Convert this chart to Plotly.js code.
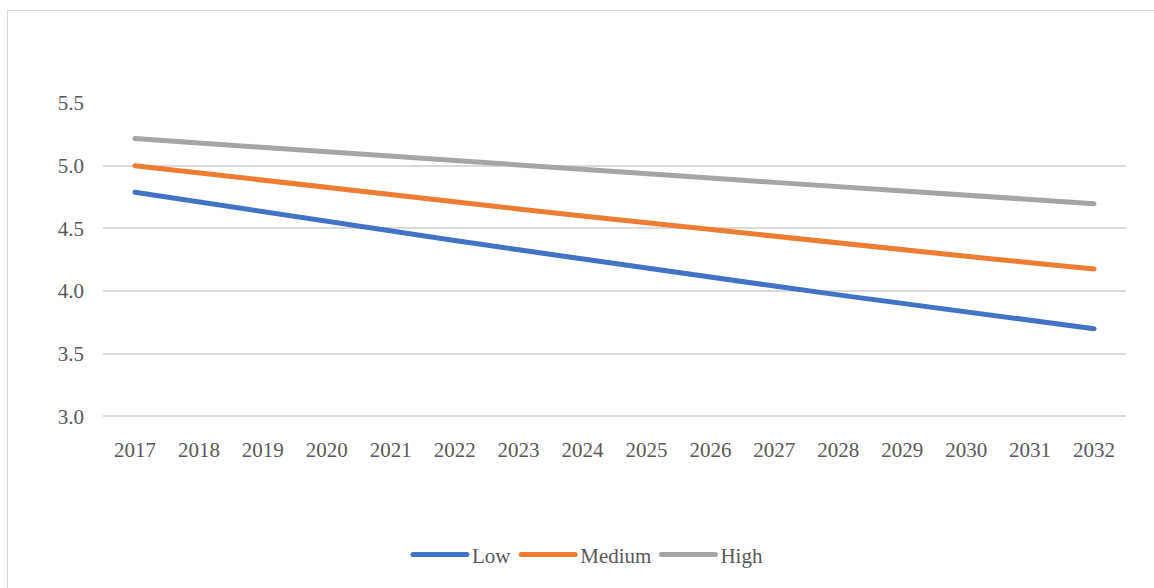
<!DOCTYPE html>
<html>
<head>
<meta charset="utf-8">
<script src="https://cdn.plot.ly/plotly-3.0.1.min.js"></script>
<style>
  html, body { margin: 0; padding: 0; background: #ffffff; overflow: hidden; }
  #frame { position: absolute; left: 7px; top: 10px; width: 1200px; height: 700px; border: 1px solid #d9d9d9; box-sizing: border-box; }
  #chart { position: absolute; left: 0; top: 0; width: 1154px; height: 588px; }
  #chart .js-line { stroke-linecap: round; }
  #chart .legendlines path { stroke-linecap: round; }
  #preload { position: absolute; left: 20px; top: 20px; }
</style>
</head>
<body>
<div id="frame"></div>
<svg id="preload" width="4" height="4"><text x="0" y="3" style="font-family: 'Liberation Serif'; font-size: 2px; fill: #ffffff;">.</text></svg>
<div id="chart"></div>
<script>
const years = ['2017','2018','2019','2020','2021','2022','2023','2024','2025','2026','2027','2028','2029','2030','2031','2032'];
const lowValues = [4.789, 4.710, 4.632, 4.555, 4.478, 4.403, 4.329, 4.255, 4.183, 4.111, 4.040, 3.970, 3.901, 3.833, 3.766, 3.700];
const mediumValues = [5.000, 4.941, 4.883, 4.825, 4.767, 4.711, 4.655, 4.599, 4.544, 4.490, 4.436, 4.382, 4.329, 4.277, 4.226, 4.176];
const highValues = [5.216, 5.180, 5.144, 5.108, 5.073, 5.038, 5.003, 4.969, 4.935, 4.901, 4.867, 4.834, 4.801, 4.768, 4.733, 4.697];
const seriesNames = ['Low', 'Medium', 'High'];
const seriesColors = ['#4472C4', '#ED7D31', '#A5A5A5'];
const yTicks = [3.0, 3.5, 4.0, 4.5, 5.0, 5.5];

const fontFamily = 'Liberation Serif';
const textColor = '#595959';

const allValues = [lowValues, mediumValues, highValues];
const traces = allValues.map((vals, i) => ({
  type: 'scatter',
  mode: 'lines',
  name: seriesNames[i],
  x: years,
  y: vals,
  line: { color: seriesColors[i], width: 5 },
  hoverinfo: 'x+y+name'
}));

const layout = {
  width: 1154,
  height: 588,
  margin: { l: 103, r: 28, t: 103, b: 166, pad: 0 },
  paper_bgcolor: 'rgba(0,0,0,0)',
  plot_bgcolor: 'rgba(0,0,0,0)',
  font: { family: fontFamily, color: textColor, size: 21 },
  showlegend: true,
  legend: {
    orientation: 'h',
    x: 0.474, xanchor: 'center',
    y: -0.43, yanchor: 'middle',
    itemwidth: 54,
    traceorder: 'normal'
  },
  xaxis: {
    type: 'category',
    showgrid: false,
    zeroline: false,
    showline: false,
    ticks: '',
    ticklabelstandoff: 16,
    range: [-0.5, years.length - 0.5],
    fixedrange: true
  },
  yaxis: {
    range: [2.98, 5.5],
    tickvals: yTicks,
    tickformat: '.1f',
    showgrid: true,
    gridcolor: '#d9d9d9',
    gridwidth: 1.5,
    zeroline: false,
    showline: false,
    ticks: '',
    ticklabelstandoff: 18,
    fixedrange: true
  }
};

Plotly.newPlot('chart', traces, layout, { displayModeBar: false });
</script>
</body>
</html>
